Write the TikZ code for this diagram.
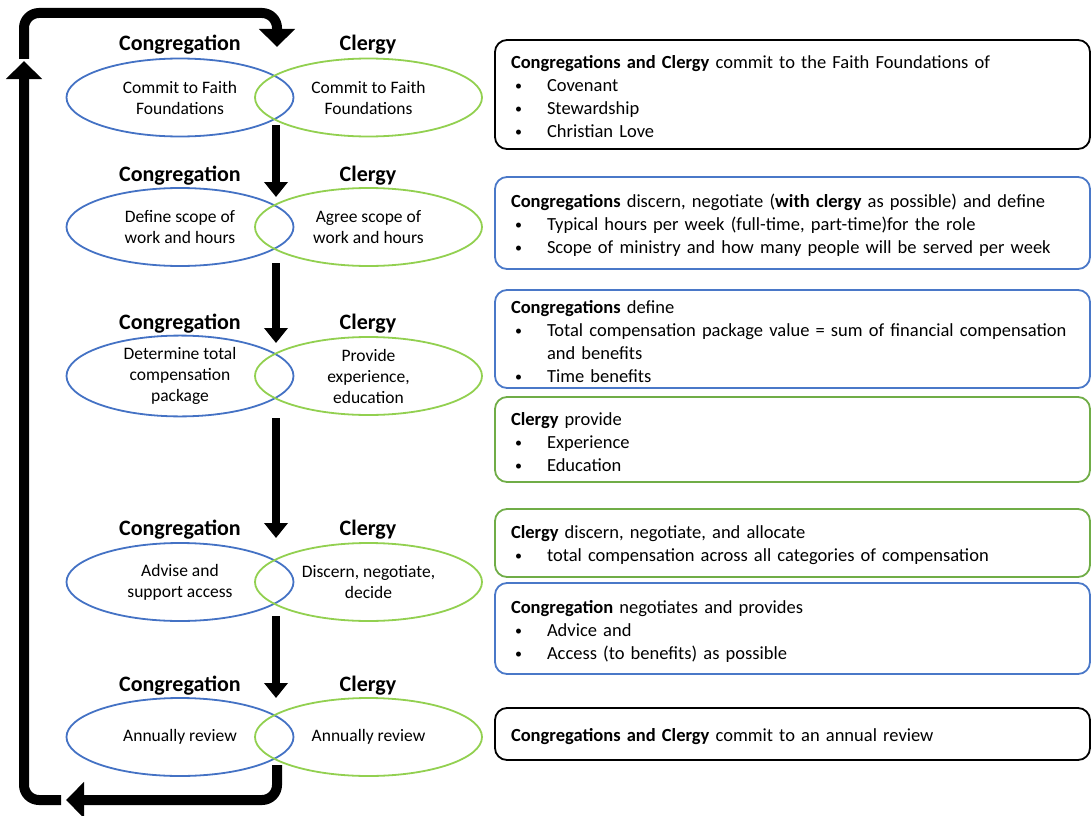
\documentclass[tikz,border=0pt]{standalone}
\usepackage{fontspec}
\setmainfont{Carlito}
\usetikzlibrary{shapes.geometric,arrows.meta}
\definecolor{eblue}{HTML}{4472C4}
\definecolor{egreen}{HTML}{92D050}
\definecolor{bblue}{HTML}{4A78C8}
\definecolor{bgreen}{HTML}{70AD47}
\newcommand{\bitem}{\\\hspace*{4pt}\makebox[32pt][l]{\raisebox{1pt}{\fontsize{14}{14}\selectfont•}}}
\tikzset{
  ell/.style={ellipse, minimum width=227pt, minimum height=78pt, line width=1.8pt,
    align=center, inner sep=0pt, font=\fontsize{17.5}{21}\selectfont},
  congE/.style={ell, draw=eblue},
  clerE/.style={ell, draw=egreen},
  hdr/.style={font=\bfseries\fontsize{22}{26}\selectfont, inner sep=0pt},
  infobox/.style={draw, rounded corners=12pt, line width=1.8pt, inner sep=0pt,
    minimum width=595pt},
  boxtext/.style={text width=563pt, inner sep=0pt, align=left,
    font=\fontsize{18.5}{23}\selectfont},
  flow/.style={line width=8pt, -{Triangle[width=23pt,length=15pt]}},
  loopar/.style={line width=10pt, rounded corners=15pt, -{Triangle[width=35pt,length=18pt]}}
}
\begin{document}
\begin{tikzpicture}[x=1pt,y=-1pt]
\useasboundingbox (0,0) rectangle (1092,816);
% headers
\foreach \i/\y in {1/45,2/176,3/324,4/530,5/686}{
  \node[hdr] (hc\i) at (180,\y) {Congregation};
  \node[hdr] (hg\i) at (368,\y) {Clergy};
}
% ellipses
\node[congE] (c1) at (180,97.5) {Commit to Faith\\Foundations};
\node[clerE] (g1) at (368.5,97.5) {Commit to Faith\\Foundations};
\node[congE] (c2) at (180,227) {Define scope of\\work and hours};
\node[clerE] (g2) at (368.5,227) {Agree scope of\\work and hours};
\node[congE] (c3) at (180,376) {Determine total\\compensation\\package};
\node[clerE] (g3) at (368.5,376) {Provide\\experience,\\education};
\node[congE] (c4) at (180,582) {Advise and\\support access};
\node[clerE] (g4) at (368.5,582) {Discern, negotiate,\\decide};
\node[congE] (c5) at (180,737) {Annually review};
\node[clerE] (g5) at (368.5,737) {Annually review};
% boxes
\node[infobox, draw=black, minimum height=109pt] (b1) at (792.5,94.5) {};
\node[infobox, draw=bblue, minimum height=92pt] (b2) at (792.5,223) {};
\node[infobox, draw=bblue, minimum height=98pt] (b3) at (792.5,339) {};
\node[infobox, draw=bgreen, minimum height=85pt] (b4) at (792.5,439.5) {};
\node[infobox, draw=bgreen, minimum height=68pt] (b5) at (792.5,543) {};
\node[infobox, draw=bblue, minimum height=91pt] (b6) at (792.5,628.5) {};
\node[infobox, draw=black, minimum height=52pt] (b7) at (792.5,734) {};
\node[boxtext] (t1) at ([yshift=-2.5pt]b1.center)
  {\textbf{Congregations and Clergy} commit to the Faith Foundations of\bitem Covenant\bitem Stewardship\bitem Christian Love};
\node[boxtext] (t2) at ([yshift=-2.5pt]b2.center)
  {\textbf{Congregations} discern, negotiate (\textbf{with clergy} as possible) and define\bitem \mbox{Typical hours per week (full-time, part-time)for the role}\bitem \mbox{Scope of ministry and how many people will be served per week}};
\node[boxtext] (t3) at ([yshift=-2.5pt]b3.center)
  {\textbf{Congregations} define\bitem \mbox{Total compensation package value = sum of financial compensation}\\\hspace*{36pt}and benefits\bitem Time benefits};
\node[boxtext] (t4) at ([yshift=-2.5pt]b4.center)
  {\textbf{Clergy} provide\bitem Experience\bitem Education};
\node[boxtext] (t5) at ([yshift=-2.5pt]b5.center)
  {\textbf{Clergy} discern, negotiate, and allocate\bitem \mbox{total compensation across all categories of compensation}};
\node[boxtext] (t6) at ([yshift=-2.5pt]b6.center)
  {\textbf{Congregation} negotiates and provides\bitem Advice and\bitem Access (to benefits) as possible};
\node[boxtext] (t7) at ([yshift=-2.5pt]b7.center)
  {\textbf{Congregations and Clergy} commit to an annual review};
% flow arrows
\coordinate (f1s) at (276,125); \coordinate (f1e) at (276,197);
\coordinate (f2s) at (276,263); \coordinate (f2e) at (276,343);
\coordinate (f3s) at (276,418); \coordinate (f3e) at (276,538);
\coordinate (f4s) at (276,616); \coordinate (f4e) at (276,698);
\draw[flow] (f1s) -- (f1e);
\draw[flow] (f2s) -- (f2e);
\draw[flow] (f3s) -- (f3e);
\draw[flow] (f4s) -- (f4e);
% loop arrows
\coordinate (l1s) at (277,765); \coordinate (l1e) at (66,800);
\coordinate (l2s) at (61,800);  \coordinate (l2e) at (24,61);
\coordinate (l3s) at (24,59);   \coordinate (l3c) at (277,13); \coordinate (l3e) at (277,47);
\draw[loopar] (l1s) |- (l1e);
\draw[loopar] (l2s) -| (l2e);
\draw[loopar] (l3s) |- (l3c) -- (l3e);
\end{tikzpicture}
\end{document}
